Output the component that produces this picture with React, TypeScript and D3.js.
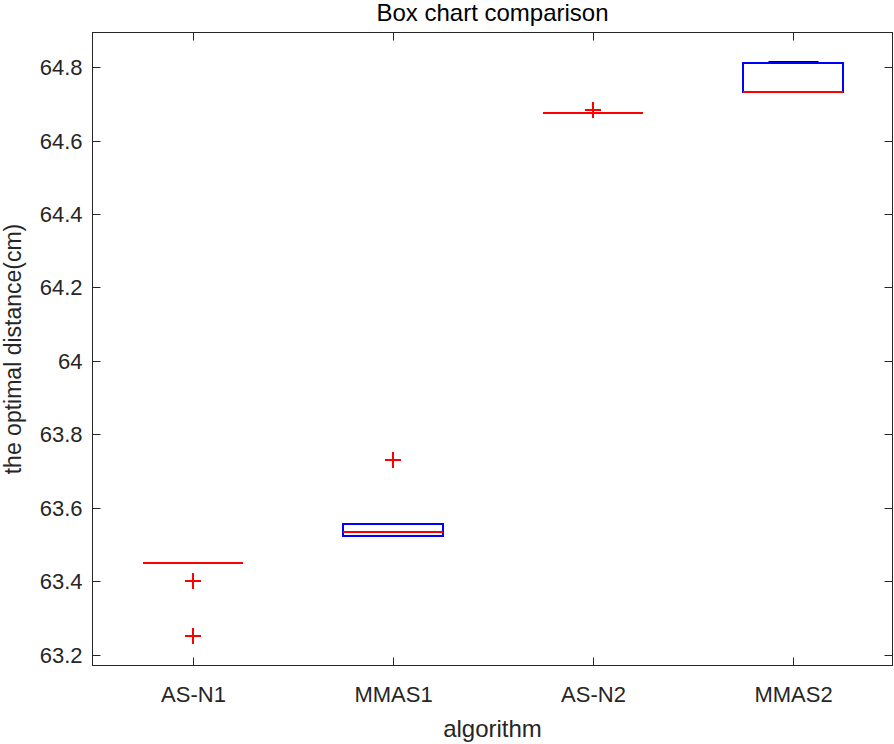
import React, { useEffect, useRef } from "react";
import * as d3 from "d3";

const categories = ["AS-N1", "MMAS1", "AS-N2", "MMAS2"];
const q1Values = [63.45, 63.524, 64.674, 64.733];
const medianValues = [63.45, 63.534, 64.674, 64.733];
const q3Values = [63.45, 63.556, 64.674, 64.81];
const whiskerLow = [63.45, 63.524, 64.674, 64.733];
const whiskerHigh = [63.45, 63.556, 64.674, 64.814];
const outlierValues = [[63.4, 63.25], [63.73], [64.684], []];
const yTicks = [63.2, 63.4, 63.6, 63.8, 64, 64.2, 64.4, 64.6, 64.8];
const yTickLabels = ["63.2", "63.4", "63.6", "63.8", "64", "64.2", "64.4", "64.6", "64.8"];

const App: React.FC = () => {
  const ref = useRef<SVGSVGElement>(null);

  useEffect(() => {
    if (!ref.current) return;
    document.body.style.margin = "0";

    const width = 894;
    const height = 744;
    const left = 92.5, right = 892.5, top = 32.5, bottom = 665.5;
    const axisColor = "#262626";
    const font = "'Liberation Sans', Arial, sans-serif";

    const svg = d3.select(ref.current);
    svg.selectAll("*").remove();
    svg.attr("width", width).attr("height", height);

    const x = d3.scalePoint<string>().domain(categories).range([left, right]).padding(0.5);
    const y = d3.scaleLinear().domain([63.171, 64.894]).range([bottom, top]);
    const yr = (v: number) => Math.round(y(v));
    const boxW = x.step() * 0.5;
    const capW = x.step() * 0.25;

    svg.append("rect").attr("x", 0).attr("y", 0).attr("width", width).attr("height", height).attr("fill", "#fff");

    const g = svg.append("g");

    // whiskers (only where they reach past the box)
    categories.forEach((c, i) => {
      const cx = Math.round(x(c)!) + 0.5;
      if (whiskerHigh[i] > q3Values[i]) {
        g.append("line").attr("x1", cx).attr("x2", cx)
          .attr("y1", yr(q3Values[i])).attr("y2", yr(whiskerHigh[i]))
          .attr("stroke", "#000").attr("stroke-dasharray", "6,4");
        g.append("line").attr("x1", cx - capW / 2).attr("x2", cx + capW / 2)
          .attr("y1", yr(whiskerHigh[i])).attr("y2", yr(whiskerHigh[i]))
          .attr("stroke", "#000").attr("stroke-width", 2);
      }
      if (whiskerLow[i] < q1Values[i]) {
        g.append("line").attr("x1", cx).attr("x2", cx)
          .attr("y1", yr(q1Values[i])).attr("y2", yr(whiskerLow[i]))
          .attr("stroke", "#000").attr("stroke-dasharray", "6,4");
        g.append("line").attr("x1", cx - capW / 2).attr("x2", cx + capW / 2)
          .attr("y1", yr(whiskerLow[i])).attr("y2", yr(whiskerLow[i]))
          .attr("stroke", "#000").attr("stroke-width", 2);
      }
    });

    // boxes
    g.selectAll("rect.box").data(categories).enter().append("rect")
      .attr("class", "box")
      .attr("x", (c) => Math.round(x(c)! - boxW / 2))
      .attr("y", (_, i) => yr(q3Values[i]))
      .attr("width", boxW)
      .attr("height", (_, i) => yr(q1Values[i]) - yr(q3Values[i]))
      .attr("fill", "none").attr("stroke", "#0000ff").attr("stroke-width", 2);

    // medians
    g.selectAll("line.median").data(categories).enter().append("line")
      .attr("x1", (c) => Math.round(x(c)! - boxW / 2)).attr("x2", (c) => Math.round(x(c)! + boxW / 2))
      .attr("y1", (_, i) => yr(medianValues[i])).attr("y2", (_, i) => yr(medianValues[i]))
      .attr("stroke", "#ff0000").attr("stroke-width", 2);

    // outliers
    categories.forEach((c, i) => {
      const cx = Math.round(x(c)!);
      outlierValues[i].forEach((v) => {
        const cy = yr(v);
        g.append("path")
          .attr("d", `M${cx - 8},${cy}H${cx + 8}M${cx},${cy - 8}V${cy + 8}`)
          .attr("stroke", "#ff0000").attr("stroke-width", 2).attr("fill", "none");
      });
    });

    // axes box
    const tickLen = 8;
    svg.append("rect").attr("x", left).attr("y", top).attr("width", right - left).attr("height", bottom - top)
      .attr("fill", "none").attr("stroke", axisColor).attr("stroke-width", 1);

    yTicks.forEach((t, i) => {
      const ty = Math.round(y(t)) + 0.5;
      svg.append("line").attr("x1", left).attr("x2", left + tickLen).attr("y1", ty).attr("y2", ty).attr("stroke", axisColor);
      svg.append("line").attr("x1", right).attr("x2", right - tickLen).attr("y1", ty).attr("y2", ty).attr("stroke", axisColor);
      svg.append("text").attr("x", left - 10).attr("y", ty).attr("dy", "0.35em")
        .attr("text-anchor", "end").attr("font-family", font).attr("font-size", 22).attr("fill", axisColor)
        .text(yTickLabels[i]);
    });

    categories.forEach((c) => {
      const tx = Math.round(x(c)!) + 0.5;
      svg.append("line").attr("x1", tx).attr("x2", tx).attr("y1", bottom).attr("y2", bottom - tickLen).attr("stroke", axisColor);
      svg.append("line").attr("x1", tx).attr("x2", tx).attr("y1", top).attr("y2", top + tickLen).attr("stroke", axisColor);
      svg.append("text").attr("x", tx).attr("y", 702)
        .attr("text-anchor", "middle").attr("font-family", font).attr("font-size", 22).attr("fill", axisColor)
        .text(c);
    });

    svg.append("text").attr("x", (left + right) / 2).attr("y", 737)
      .attr("text-anchor", "middle").attr("font-family", font).attr("font-size", 24).attr("fill", axisColor)
      .text("algorithm");

    svg.append("text").attr("transform", `translate(21,${(top + bottom) / 2}) rotate(-90)`)
      .attr("text-anchor", "middle").attr("font-family", font).attr("font-size", 23).attr("fill", axisColor)
      .text("the optimal distance(cm)");

    svg.append("text").attr("x", (left + right) / 2).attr("y", 21)
      .attr("text-anchor", "middle").attr("font-family", font).attr("font-size", 24).attr("fill", "#000")
      .text("Box chart comparison");
  }, []);

  return <svg ref={ref} style={{ display: "block" }} />;
};

export default App;
